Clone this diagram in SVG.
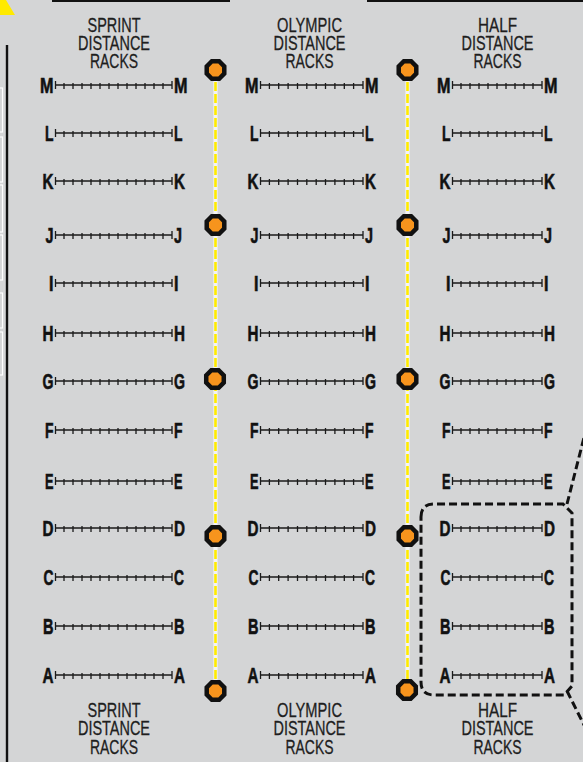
<svg xmlns="http://www.w3.org/2000/svg" xmlns:xlink="http://www.w3.org/1999/xlink" width="583" height="762" viewBox="0 0 583 762">
<style>
.hd{font-family:"Liberation Sans",Arial,sans-serif;font-size:21px;fill:#1e1e1e;stroke:#1e1e1e;stroke-width:0.3;text-anchor:middle}
.lt{font-family:"Liberation Sans",Arial,sans-serif;font-size:21.5px;font-weight:bold;fill:#111;stroke:#111;stroke-width:0.6}
.l{text-anchor:end}
.rk{stroke:#1a1a1a;stroke-width:1.3;fill:none}
.yl{stroke:#ffeb00;stroke-width:2.6;stroke-dasharray:9 3;fill:none}
.yw{stroke:#f4f4f4;stroke-width:4.2;fill:none}
.oc{fill:#f7941d;stroke:#111;stroke-width:4.5;stroke-linejoin:miter}
.sel{fill:none;stroke:#111;stroke-width:3;stroke-dasharray:8 4}
.bx{fill:none;stroke:#fff;stroke-width:1.2}
</style>
<defs>
<polygon id="oct" class="oc" points="8.78,3.64 3.64,8.78 -3.64,8.78 -8.78,3.64 -8.78,-3.64 -3.64,-8.78 3.64,-8.78 8.78,-3.64"/>
<path id="rackS" class="rk" d="M55.5,0H172M55.5,-4v8M172,-4v8M64,-2v6M73,-2v6M82,-2v6M91,-2v6M100,-2v6M109,-2v6M118,-2v6M127,-2v6M136,-2v6M145,-2v6M154,-2v6M163,-2v6"/>
<path id="rackO" class="rk" d="M260.5,0H363M260.5,-4v8M363,-4v8M269.4,-2v6M278.7,-2v6M288.1,-2v6M297.5,-2v6M306.8,-2v6M316.2,-2v6M325.5,-2v6M334.9,-2v6M344.3,-2v6M353.6,-2v6"/>
<path id="rackH" class="rk" d="M452.5,0H542M452.5,-4v8M542,-4v8M461,-2v6M470,-2v6M479,-2v6M488,-2v6M497,-2v6M506,-2v6M515,-2v6M524,-2v6M533,-2v6"/>
</defs>
<rect width="583" height="762" fill="#d4d5d6"/>
<g id="frame">
<polygon points="0,0 6,0 15,15 0,15" fill="#ffea00"/>
<rect x="52" y="0" width="178" height="2" fill="#111"/>
<rect x="367" y="0" width="216" height="2" fill="#111"/>
<rect x="5.8" y="45" width="2.4" height="717" fill="#111"/>
<rect class="bx" x="-4" y="88" width="6.5" height="44"/>
<rect class="bx" x="-4" y="137" width="6.5" height="45"/>
<rect class="bx" x="-4" y="185" width="6.5" height="47"/>
<rect class="bx" x="-4" y="235" width="6.5" height="45"/>
<rect class="bx" x="-4" y="293" width="6.5" height="35"/>
<rect class="bx" x="-4" y="332" width="6.5" height="43"/>
</g>
<g id="connectors">
<path class="yw" d="M215.5,70V691"/>
<path class="yl" d="M215.5,70V691"/>
<path class="yw" d="M407.5,70V690"/>
<path class="yl" d="M407.5,70V690"/>
<path class="sel" d="M421,517Q421,504 434,504H563L572,513V686L564,695H434Q421,695 421,682Z"/>
<path class="sel" d="M567,504L589,418"/>
<path class="sel" d="M567,691L589,735"/>
</g>
<g id="posts">
<use xlink:href="#oct" x="215.5" y="70"/>
<use xlink:href="#oct" x="215.5" y="225"/>
<use xlink:href="#oct" x="215" y="379"/>
<use xlink:href="#oct" x="215.5" y="536"/>
<use xlink:href="#oct" x="215.5" y="691"/>
<use xlink:href="#oct" x="407.5" y="70"/>
<use xlink:href="#oct" x="407.5" y="225"/>
<use xlink:href="#oct" x="407.5" y="379"/>
<use xlink:href="#oct" x="407.5" y="536"/>
<use xlink:href="#oct" x="407" y="690"/>
</g>
<g id="sprint">
<text class="hd" x="114" y="32" textLength="53" lengthAdjust="spacingAndGlyphs">SPRINT</text>
<text class="hd" x="114" y="50" textLength="72" lengthAdjust="spacingAndGlyphs">DISTANCE</text>
<text class="hd" x="114" y="68" textLength="48" lengthAdjust="spacingAndGlyphs">RACKS</text>
<text class="hd" x="114" y="717" textLength="53" lengthAdjust="spacingAndGlyphs">SPRINT</text>
<text class="hd" x="114" y="735" textLength="72" lengthAdjust="spacingAndGlyphs">DISTANCE</text>
<text class="hd" x="114" y="754" textLength="48" lengthAdjust="spacingAndGlyphs">RACKS</text>
<use xlink:href="#rackS" y="85"/><use xlink:href="#rackS" y="133"/><use xlink:href="#rackS" y="181"/><use xlink:href="#rackS" y="235"/><use xlink:href="#rackS" y="283"/><use xlink:href="#rackS" y="333"/><use xlink:href="#rackS" y="381"/><use xlink:href="#rackS" y="430"/><use xlink:href="#rackS" y="481"/><use xlink:href="#rackS" y="528"/><use xlink:href="#rackS" y="577"/><use xlink:href="#rackS" y="626"/><use xlink:href="#rackS" y="675"/>
<text class="lt l" x="53.5" y="92.5" textLength="13.5" lengthAdjust="spacingAndGlyphs">M</text>
<text class="lt l" x="53.5" y="140.5" textLength="8.5" lengthAdjust="spacingAndGlyphs">L</text>
<text class="lt l" x="53.5" y="188.5" textLength="11" lengthAdjust="spacingAndGlyphs">K</text>
<text class="lt l" x="53.5" y="242.5" textLength="8" lengthAdjust="spacingAndGlyphs">J</text>
<text class="lt l" x="53.5" y="290.5" textLength="4.5" lengthAdjust="spacingAndGlyphs">I</text>
<text class="lt l" x="53.5" y="340.5" textLength="11" lengthAdjust="spacingAndGlyphs">H</text>
<text class="lt l" x="53.5" y="388.5" textLength="11" lengthAdjust="spacingAndGlyphs">G</text>
<text class="lt l" x="53.5" y="437.5" textLength="8.5" lengthAdjust="spacingAndGlyphs">F</text>
<text class="lt l" x="53.5" y="488.5" textLength="8.5" lengthAdjust="spacingAndGlyphs">E</text>
<text class="lt l" x="53.5" y="535.5" textLength="11" lengthAdjust="spacingAndGlyphs">D</text>
<text class="lt l" x="53.5" y="584.5" textLength="10" lengthAdjust="spacingAndGlyphs">C</text>
<text class="lt l" x="53.5" y="633.5" textLength="10.5" lengthAdjust="spacingAndGlyphs">B</text>
<text class="lt l" x="53.5" y="682.5" textLength="11" lengthAdjust="spacingAndGlyphs">A</text>
<text class="lt" x="174" y="92.5" textLength="13.5" lengthAdjust="spacingAndGlyphs">M</text>
<text class="lt" x="174" y="140.5" textLength="8.5" lengthAdjust="spacingAndGlyphs">L</text>
<text class="lt" x="174" y="188.5" textLength="11" lengthAdjust="spacingAndGlyphs">K</text>
<text class="lt" x="174" y="242.5" textLength="8" lengthAdjust="spacingAndGlyphs">J</text>
<text class="lt" x="174" y="290.5" textLength="4.5" lengthAdjust="spacingAndGlyphs">I</text>
<text class="lt" x="174" y="340.5" textLength="11" lengthAdjust="spacingAndGlyphs">H</text>
<text class="lt" x="174" y="388.5" textLength="11" lengthAdjust="spacingAndGlyphs">G</text>
<text class="lt" x="174" y="437.5" textLength="8.5" lengthAdjust="spacingAndGlyphs">F</text>
<text class="lt" x="174" y="488.5" textLength="8.5" lengthAdjust="spacingAndGlyphs">E</text>
<text class="lt" x="174" y="535.5" textLength="11" lengthAdjust="spacingAndGlyphs">D</text>
<text class="lt" x="174" y="584.5" textLength="10" lengthAdjust="spacingAndGlyphs">C</text>
<text class="lt" x="174" y="633.5" textLength="10.5" lengthAdjust="spacingAndGlyphs">B</text>
<text class="lt" x="174" y="682.5" textLength="11" lengthAdjust="spacingAndGlyphs">A</text>
</g>
<g id="olympic">
<text class="hd" x="309.5" y="32" textLength="65" lengthAdjust="spacingAndGlyphs">OLYMPIC</text>
<text class="hd" x="309.5" y="50" textLength="72" lengthAdjust="spacingAndGlyphs">DISTANCE</text>
<text class="hd" x="309.5" y="68" textLength="48" lengthAdjust="spacingAndGlyphs">RACKS</text>
<text class="hd" x="309.5" y="717" textLength="65" lengthAdjust="spacingAndGlyphs">OLYMPIC</text>
<text class="hd" x="309.5" y="735" textLength="72" lengthAdjust="spacingAndGlyphs">DISTANCE</text>
<text class="hd" x="309.5" y="754" textLength="48" lengthAdjust="spacingAndGlyphs">RACKS</text>
<use xlink:href="#rackO" y="85"/><use xlink:href="#rackO" y="133"/><use xlink:href="#rackO" y="181"/><use xlink:href="#rackO" y="235"/><use xlink:href="#rackO" y="283"/><use xlink:href="#rackO" y="333"/><use xlink:href="#rackO" y="381"/><use xlink:href="#rackO" y="430"/><use xlink:href="#rackO" y="481"/><use xlink:href="#rackO" y="528"/><use xlink:href="#rackO" y="577"/><use xlink:href="#rackO" y="626"/><use xlink:href="#rackO" y="675"/>
<text class="lt l" x="258.5" y="92.5" textLength="13.5" lengthAdjust="spacingAndGlyphs">M</text>
<text class="lt l" x="258.5" y="140.5" textLength="8.5" lengthAdjust="spacingAndGlyphs">L</text>
<text class="lt l" x="258.5" y="188.5" textLength="11" lengthAdjust="spacingAndGlyphs">K</text>
<text class="lt l" x="258.5" y="242.5" textLength="8" lengthAdjust="spacingAndGlyphs">J</text>
<text class="lt l" x="258.5" y="290.5" textLength="4.5" lengthAdjust="spacingAndGlyphs">I</text>
<text class="lt l" x="258.5" y="340.5" textLength="11" lengthAdjust="spacingAndGlyphs">H</text>
<text class="lt l" x="258.5" y="388.5" textLength="11" lengthAdjust="spacingAndGlyphs">G</text>
<text class="lt l" x="258.5" y="437.5" textLength="8.5" lengthAdjust="spacingAndGlyphs">F</text>
<text class="lt l" x="258.5" y="488.5" textLength="8.5" lengthAdjust="spacingAndGlyphs">E</text>
<text class="lt l" x="258.5" y="535.5" textLength="11" lengthAdjust="spacingAndGlyphs">D</text>
<text class="lt l" x="258.5" y="584.5" textLength="10" lengthAdjust="spacingAndGlyphs">C</text>
<text class="lt l" x="258.5" y="633.5" textLength="10.5" lengthAdjust="spacingAndGlyphs">B</text>
<text class="lt l" x="258.5" y="682.5" textLength="11" lengthAdjust="spacingAndGlyphs">A</text>
<text class="lt" x="365" y="92.5" textLength="13.5" lengthAdjust="spacingAndGlyphs">M</text>
<text class="lt" x="365" y="140.5" textLength="8.5" lengthAdjust="spacingAndGlyphs">L</text>
<text class="lt" x="365" y="188.5" textLength="11" lengthAdjust="spacingAndGlyphs">K</text>
<text class="lt" x="365" y="242.5" textLength="8" lengthAdjust="spacingAndGlyphs">J</text>
<text class="lt" x="365" y="290.5" textLength="4.5" lengthAdjust="spacingAndGlyphs">I</text>
<text class="lt" x="365" y="340.5" textLength="11" lengthAdjust="spacingAndGlyphs">H</text>
<text class="lt" x="365" y="388.5" textLength="11" lengthAdjust="spacingAndGlyphs">G</text>
<text class="lt" x="365" y="437.5" textLength="8.5" lengthAdjust="spacingAndGlyphs">F</text>
<text class="lt" x="365" y="488.5" textLength="8.5" lengthAdjust="spacingAndGlyphs">E</text>
<text class="lt" x="365" y="535.5" textLength="11" lengthAdjust="spacingAndGlyphs">D</text>
<text class="lt" x="365" y="584.5" textLength="10" lengthAdjust="spacingAndGlyphs">C</text>
<text class="lt" x="365" y="633.5" textLength="10.5" lengthAdjust="spacingAndGlyphs">B</text>
<text class="lt" x="365" y="682.5" textLength="11" lengthAdjust="spacingAndGlyphs">A</text>
</g>
<g id="half">
<text class="hd" x="497.5" y="32" textLength="39" lengthAdjust="spacingAndGlyphs">HALF</text>
<text class="hd" x="497.5" y="50" textLength="72" lengthAdjust="spacingAndGlyphs">DISTANCE</text>
<text class="hd" x="497.5" y="68" textLength="48" lengthAdjust="spacingAndGlyphs">RACKS</text>
<text class="hd" x="497.5" y="717" textLength="39" lengthAdjust="spacingAndGlyphs">HALF</text>
<text class="hd" x="497.5" y="735" textLength="72" lengthAdjust="spacingAndGlyphs">DISTANCE</text>
<text class="hd" x="497.5" y="754" textLength="48" lengthAdjust="spacingAndGlyphs">RACKS</text>
<use xlink:href="#rackH" y="85"/><use xlink:href="#rackH" y="133"/><use xlink:href="#rackH" y="181"/><use xlink:href="#rackH" y="235"/><use xlink:href="#rackH" y="283"/><use xlink:href="#rackH" y="333"/><use xlink:href="#rackH" y="381"/><use xlink:href="#rackH" y="430"/><use xlink:href="#rackH" y="481"/><use xlink:href="#rackH" y="528"/><use xlink:href="#rackH" y="577"/><use xlink:href="#rackH" y="626"/><use xlink:href="#rackH" y="675"/>
<text class="lt l" x="450.5" y="92.5" textLength="13.5" lengthAdjust="spacingAndGlyphs">M</text>
<text class="lt l" x="450.5" y="140.5" textLength="8.5" lengthAdjust="spacingAndGlyphs">L</text>
<text class="lt l" x="450.5" y="188.5" textLength="11" lengthAdjust="spacingAndGlyphs">K</text>
<text class="lt l" x="450.5" y="242.5" textLength="8" lengthAdjust="spacingAndGlyphs">J</text>
<text class="lt l" x="450.5" y="290.5" textLength="4.5" lengthAdjust="spacingAndGlyphs">I</text>
<text class="lt l" x="450.5" y="340.5" textLength="11" lengthAdjust="spacingAndGlyphs">H</text>
<text class="lt l" x="450.5" y="388.5" textLength="11" lengthAdjust="spacingAndGlyphs">G</text>
<text class="lt l" x="450.5" y="437.5" textLength="8.5" lengthAdjust="spacingAndGlyphs">F</text>
<text class="lt l" x="450.5" y="488.5" textLength="8.5" lengthAdjust="spacingAndGlyphs">E</text>
<text class="lt l" x="450.5" y="535.5" textLength="11" lengthAdjust="spacingAndGlyphs">D</text>
<text class="lt l" x="450.5" y="584.5" textLength="10" lengthAdjust="spacingAndGlyphs">C</text>
<text class="lt l" x="450.5" y="633.5" textLength="10.5" lengthAdjust="spacingAndGlyphs">B</text>
<text class="lt l" x="450.5" y="682.5" textLength="11" lengthAdjust="spacingAndGlyphs">A</text>
<text class="lt" x="544" y="92.5" textLength="13.5" lengthAdjust="spacingAndGlyphs">M</text>
<text class="lt" x="544" y="140.5" textLength="8.5" lengthAdjust="spacingAndGlyphs">L</text>
<text class="lt" x="544" y="188.5" textLength="11" lengthAdjust="spacingAndGlyphs">K</text>
<text class="lt" x="544" y="242.5" textLength="8" lengthAdjust="spacingAndGlyphs">J</text>
<text class="lt" x="544" y="290.5" textLength="4.5" lengthAdjust="spacingAndGlyphs">I</text>
<text class="lt" x="544" y="340.5" textLength="11" lengthAdjust="spacingAndGlyphs">H</text>
<text class="lt" x="544" y="388.5" textLength="11" lengthAdjust="spacingAndGlyphs">G</text>
<text class="lt" x="544" y="437.5" textLength="8.5" lengthAdjust="spacingAndGlyphs">F</text>
<text class="lt" x="544" y="488.5" textLength="8.5" lengthAdjust="spacingAndGlyphs">E</text>
<text class="lt" x="544" y="535.5" textLength="11" lengthAdjust="spacingAndGlyphs">D</text>
<text class="lt" x="544" y="584.5" textLength="10" lengthAdjust="spacingAndGlyphs">C</text>
<text class="lt" x="544" y="633.5" textLength="10.5" lengthAdjust="spacingAndGlyphs">B</text>
<text class="lt" x="544" y="682.5" textLength="11" lengthAdjust="spacingAndGlyphs">A</text>
</g>
</svg>
